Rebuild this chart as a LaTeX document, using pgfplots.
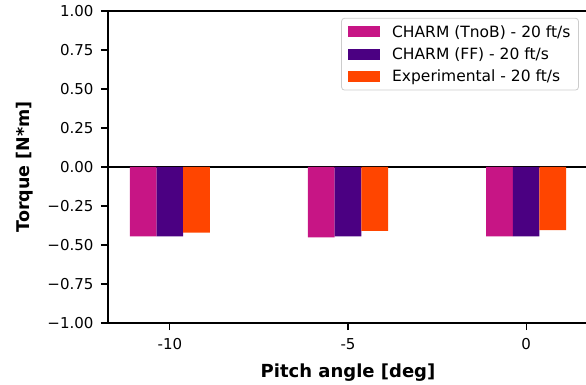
\documentclass[border=0pt]{standalone}
\usepackage{fontspec}
\setmainfont{DejaVu Sans}
\usepackage{pgfplots}
\pgfplotsset{compat=1.18}
\definecolor{cmag}{RGB}{199,21,133}
\definecolor{cind}{RGB}{75,0,130}
\definecolor{cora}{RGB}{255,69,0}
\pgfplotsset{mybar/.style={ybar, bar width=26.7pt, draw=none,
  legend image code/.code={\fill[##1, sharp corners] (0pt,-5.5pt) rectangle (32.6pt,5.5pt);}}}
\begin{document}
\begin{tikzpicture}
\begin{axis}[name=ax, scale only axis, width=480pt, height=312pt,
  xmin=-11.7375, xmax=1.7375, ymin=-1, ymax=1,
  xtick={-10,-5,0}, xticklabels={-10,-5,0},
  ytick={-1,-0.75,-0.5,-0.25,0,0.25,0.5,0.75,1},
  yticklabels={−1.00,−0.75,−0.50,−0.25,0.00,0.25,0.50,0.75,1.00},
  tick align=outside, major tick length=7pt,
  tick style={black, line width=1.1pt},
  axis line style={line width=1.3pt},
  xtick pos=bottom, ytick pos=left,
  ticklabel style={font=\fontsize{15}{18}\selectfont},
  xticklabel style={yshift=-5pt},
  yticklabel style={xshift=-4pt},
  extra y ticks={0}, extra y tick labels={},
  extra y tick style={grid=major, major grid style={black, line width=1.3pt}, major tick length=0pt},
  xlabel={Pitch angle [deg]}, ylabel={Torque [N*m]},
  xlabel style={font=\fontsize{18}{21}\selectfont\bfseries, at={(axis description cs:0.5,0)}, anchor=north, inner sep=0pt, yshift=-41pt},
  ylabel style={font=\fontsize{17.5}{21}\selectfont\bfseries, at={(axis description cs:-0.173,0.5)}, anchor=center, inner sep=0pt},
  legend style={at={(0.981,0.978)}, anchor=north east, draw=black!20, line width=0.8pt, rounded corners=3pt,
    font=\fontsize{15.5}{18.6}\selectfont, row sep=5pt, inner xsep=6pt, inner ysep=5pt,
    /tikz/every odd column/.append style={column sep=10pt}},
  legend cell align=left,
]
\addplot[mybar, fill=cmag, bar shift=-26.7pt] coordinates {(-10,-0.444) (-5,-0.451) (0,-0.444)};
\addplot[mybar, fill=cind, bar shift=0pt] coordinates {(-10,-0.444) (-5,-0.444) (0,-0.444)};
\addplot[mybar, fill=cora, bar shift=26.7pt] coordinates {(-10,-0.421) (-5,-0.410) (0,-0.404)};
\legend{CHARM (TnoB) - 20 ft/s, CHARM (FF) - 20 ft/s, Experimental - 20 ft/s}
\end{axis}
\pgfresetboundingbox
\path[use as bounding box] ([shift={(-108pt,-62pt)}]ax.south west) rectangle ([shift={(478pt,11pt)}]ax.north west);
\end{tikzpicture}
\end{document}
